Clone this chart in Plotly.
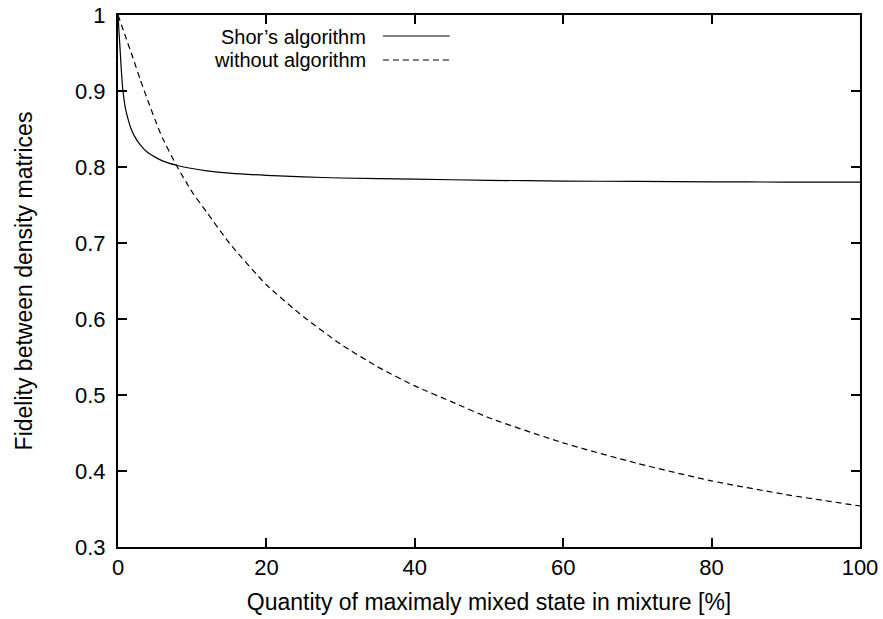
import plotly.graph_objects as go

# Data
shor_x = [0, 0.2, 0.4, 0.6, 0.8, 1.0, 1.3, 1.7, 2.2, 3, 4, 5, 6, 8, 10, 12, 15, 20, 25, 30,
          40, 50, 60, 70, 80, 90, 100]
shor_y = [1.0, 0.968, 0.935, 0.907, 0.89, 0.877, 0.865, 0.852, 0.841, 0.829, 0.819, 0.813,
          0.808, 0.802, 0.798, 0.795, 0.792, 0.789, 0.787, 0.7855, 0.784, 0.7825, 0.7815,
          0.781, 0.7805, 0.7802, 0.780]

without_x = [0, 1, 2, 3, 4, 5, 6, 8, 10, 12, 15, 20, 25, 30, 35, 40, 45, 50,
             60, 70, 80, 90, 100]
without_y = [1.0, 0.972, 0.944, 0.915, 0.888, 0.862, 0.838, 0.800, 0.767, 0.740,
             0.700, 0.645, 0.603, 0.567, 0.537, 0.512, 0.491, 0.470, 0.437, 0.410,
             0.387, 0.369, 0.354]

series_names = ["Shor\u2019s algorithm", "without algorithm"]
x_ticks = [0, 20, 40, 60, 80, 100]
y_ticks = [0.3, 0.4, 0.5, 0.6, 0.7, 0.8, 0.9, 1.0]
y_tick_text = ["0.3", "0.4", "0.5", "0.6", "0.7", "0.8", "0.9", "1"]

FONT = "Liberation Sans, Arial, Helvetica, sans-serif"
TICK_FS = 22
TITLE_FS = 23
LEGEND_FS = 20

fig = go.Figure()
fig.add_trace(go.Scatter(x=shor_x, y=shor_y, mode="lines", name=series_names[0],
                         line=dict(color="black", width=1.2, shape="spline", smoothing=0.6)))
fig.add_trace(go.Scatter(x=without_x, y=without_y, mode="lines", name=series_names[1],
                         line=dict(color="black", width=1.2, dash="6px,4px", shape="spline", smoothing=0.6)))

axis_common = dict(showline=True, linecolor="black", linewidth=2, mirror="ticks",
                   ticks="inside", ticklen=9, tickwidth=2, tickcolor="black",
                   showgrid=False, zeroline=False,
                   tickfont=dict(family=FONT, size=TICK_FS, color="black"))

fig.update_xaxes(range=[0, 100], tickvals=x_ticks, ticklabelstandoff=0,
                 title=dict(text="Quantity of maximaly mixed state in mixture [%]",
                            font=dict(family=FONT, size=TITLE_FS, color="black"), standoff=14),
                 **axis_common)
fig.update_yaxes(range=[0.3, 1.0], tickvals=y_ticks, ticktext=y_tick_text,
                 ticklabelstandoff=6,
                 title=dict(text="Fidelity between density matrices",
                            font=dict(family=FONT, size=TITLE_FS, color="black"), standoff=36),
                 **axis_common)

# Legend (gnuplot style: text right-aligned, sample to the right)
leg_items = [(series_names[0], 0.959, 0.9605, "solid"),
             (series_names[1], 0.915, 0.9154, "6px,4px")]
for name, ty, ly, dash in leg_items:
    fig.add_annotation(xref="paper", yref="paper", x=0.337, y=ty, text=name,
                       showarrow=False, xanchor="right", yanchor="middle",
                       font=dict(family=FONT, size=LEGEND_FS, color="black"))
    fig.add_shape(type="line", xref="paper", yref="paper", x0=0.357, x1=0.447, y0=ly, y1=ly,
                  line=dict(color="black", width=1.2, dash=dash))

fig.update_layout(width=883, height=619, showlegend=False,
                  paper_bgcolor="white", plot_bgcolor="white",
                  margin=dict(l=118, r=23, t=15, b=72, autoexpand=False))

fig.write_html("out.html", config={"displayModeBar": False},
               post_script="document.body.style.margin='0px';")
